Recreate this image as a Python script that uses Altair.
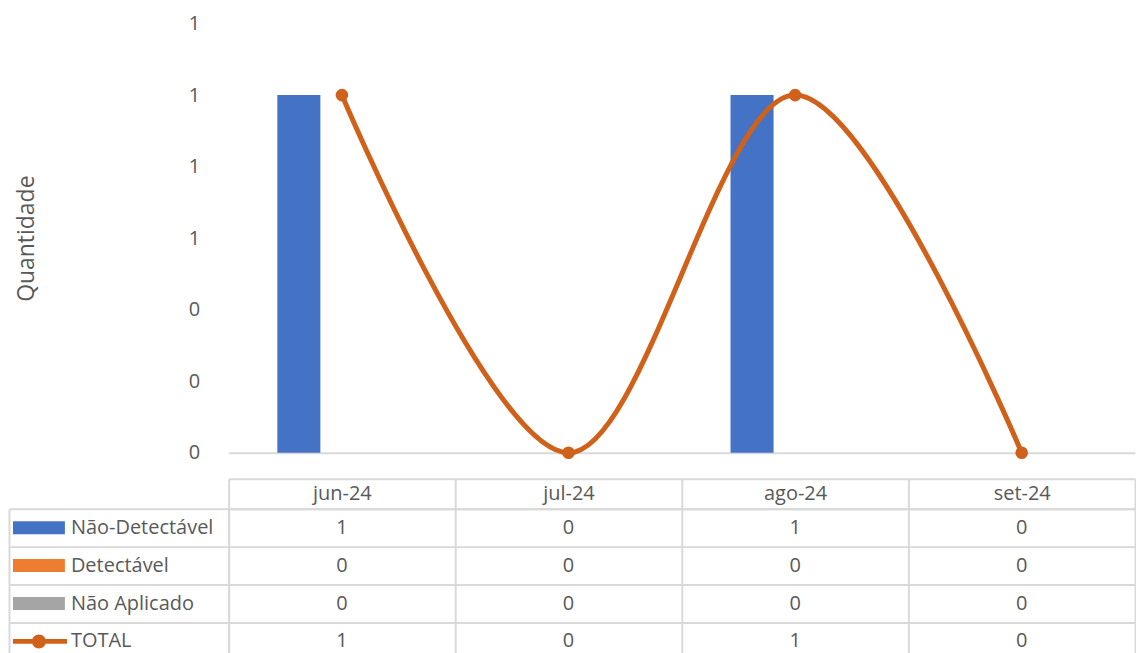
import altair as alt
import pandas as pd

# ---- data ----
months = ["jun-24", "jul-24", "ago-24", "set-24"]
series = ["Não-Detectável", "Detectável", "Não Aplicado"]
nao_detectavel = [1, 0, 1, 0]
detectavel = [0, 0, 0, 0]
nao_aplicado = [0, 0, 0, 0]
total = [1, 0, 1, 0]
rows = ["Não-Detectável", "Detectável", "Não Aplicado", "TOTAL"]
y_ticks = [0, 0.2, 0.4, 0.6, 0.8, 1.0, 1.2]

series_colors = ["#4472C4", "#ED7D31", "#A5A5A5"]
total_color = "#D0611A"
text_color = "#595959"
grid_color = "#D9D9D9"
FONT = "Open Sans"

bar_df = pd.DataFrame(
    [{"month": m, "series": s, "value": v}
     for s, vals in zip(series, [nao_detectavel, detectavel, nao_aplicado])
     for m, v in zip(months, vals)]
)
total_df = pd.DataFrame({"month": months, "total": total})
table_df = pd.DataFrame(
    [{"month": m, "row": r, "value": str(v)}
     for r, vals in zip(rows, [nao_detectavel, detectavel, nao_aplicado, total])
     for m, v in zip(months, vals)]
)
legend_df = pd.DataFrame({"row": rows, "month": [months[0]] * 4})

W = 908
H_TOP = 430
ROW_H = 38
FS = 20

x_top = alt.X("month:N", sort=months,
              scale=alt.Scale(domain=months, paddingInner=0.43, paddingOuter=0.215),
              axis=alt.Axis(title=None, labels=False, ticks=False, grid=False,
                            domain=True, domainColor=grid_color, domainWidth=2))

y_axis = alt.Axis(values=y_ticks, format=".0f", title="Quantidade", labelFontSize=FS,
                  labelColor=text_color, labelFont=FONT, labelPadding=29,
                  domain=False, ticks=False, grid=False, titleFontSize=23,
                  titleFont=FONT, titleFontWeight="normal", titleColor=text_color,
                  titlePadding=150)

bars = alt.Chart(bar_df).mark_bar().encode(
    x=x_top,
    xOffset=alt.XOffset("series:N", sort=series,
                        scale=alt.Scale(domain=series, paddingInner=0, paddingOuter=0)),
    y=alt.Y("value:Q", scale=alt.Scale(domain=[0, 1.2], nice=False), axis=y_axis),
    color=alt.Color("series:N", scale=alt.Scale(domain=series, range=series_colors),
                    legend=None),
)

line = alt.Chart(total_df).mark_line(interpolate="cardinal", strokeWidth=5,
                                     color=total_color).encode(
    x=alt.X("month:N", sort=months), y=alt.Y("total:Q"))
pts = alt.Chart(total_df).mark_circle(size=160, color=total_color, opacity=1).encode(
    x=alt.X("month:N", sort=months), y=alt.Y("total:Q"))

top = alt.layer(bars, line, pts).properties(width=W, height=H_TOP)

# ---- data table ----
sym_rect = "M-1,-0.25H1V0.25H-1Z"
sym_line = ("M-1.08,-0.09H1.08V0.09H-1.08Z "
            "M0.27,0A0.27,0.27,0,1,1,-0.27,0A0.27,0.27,0,1,1,0.27,0Z")

x_tab = alt.X("month:N", sort=months, scale=alt.Scale(domain=months, padding=0),
              axis=alt.Axis(orient="top", title=None, labelFontSize=FS, labelAngle=0,
                            labelColor=text_color, labelFont=FONT,
                            labelBaseline="middle", labelPadding=-15,
                            tickBand="extent", tickSize=30, tickColor=grid_color,
                            tickWidth=2, grid=True, gridColor=grid_color, gridWidth=2,
                            domain=True, domainColor=grid_color, domainWidth=2))
y_tab = alt.Y("row:N", sort=rows, scale=alt.Scale(domain=rows, padding=0),
              axis=alt.Axis(orient="left", title=None, labels=False,
                            tickBand="extent", tickSize=220, tickColor=grid_color,
                            tickWidth=2, grid=True, gridColor=grid_color, gridWidth=2,
                            domain=True, domainColor=grid_color, domainWidth=2))

cells = alt.Chart(table_df).mark_text(fontSize=FS, font=FONT, color=text_color).encode(
    x=x_tab, y=y_tab, text="value:N")

legend_layer = alt.Chart(legend_df).mark_point(filled=True, size=0, opacity=1).encode(
    x=alt.X("month:N", sort=months,
            axis=alt.Axis(orient="top", offset=30, title=None, labels=False,
                          ticks=False, grid=False, domain=True,
                          domainColor=grid_color, domainWidth=2)),
    y=alt.Y("row:N", sort=rows,
            axis=alt.Axis(orient="left", offset=220, title=None, labels=False,
                          ticks=False, grid=False, domain=True,
                          domainColor=grid_color, domainWidth=2)),
    fill=alt.Fill("row:N", sort=rows,
                  scale=alt.Scale(domain=rows, range=series_colors + [total_color]),
                  legend=alt.Legend(orient="none", legendX=-220, legendY=-4,
                                    title=None, padding=4, symbolSize=2704,
                                    clipHeight=ROW_H, rowPadding=0,
                                    labelOffset=6, labelFontSize=FS,
                                    labelFont=FONT, labelColor=text_color,
                                    labelLimit=300, symbolOpacity=1,
                                    symbolStrokeWidth=0)),
    shape=alt.Shape("row:N", sort=rows,
                    scale=alt.Scale(domain=rows,
                                    range=[sym_rect, sym_rect, sym_rect, sym_line])),
)

table = alt.layer(cells, legend_layer).resolve_axis(
    x="independent", y="independent").properties(width=W, height=ROW_H * 4)

chart = alt.vconcat(top, table, spacing=15).resolve_scale(
    x="independent", y="independent", color="independent",
    fill="independent", shape="independent"
).properties(
    padding={"left": 0, "top": 5, "right": 0, "bottom": 0}
).configure(font=FONT).configure_view(stroke=None)

chart.save("out.html", embed_options={"renderer": "svg", "actions": False})
